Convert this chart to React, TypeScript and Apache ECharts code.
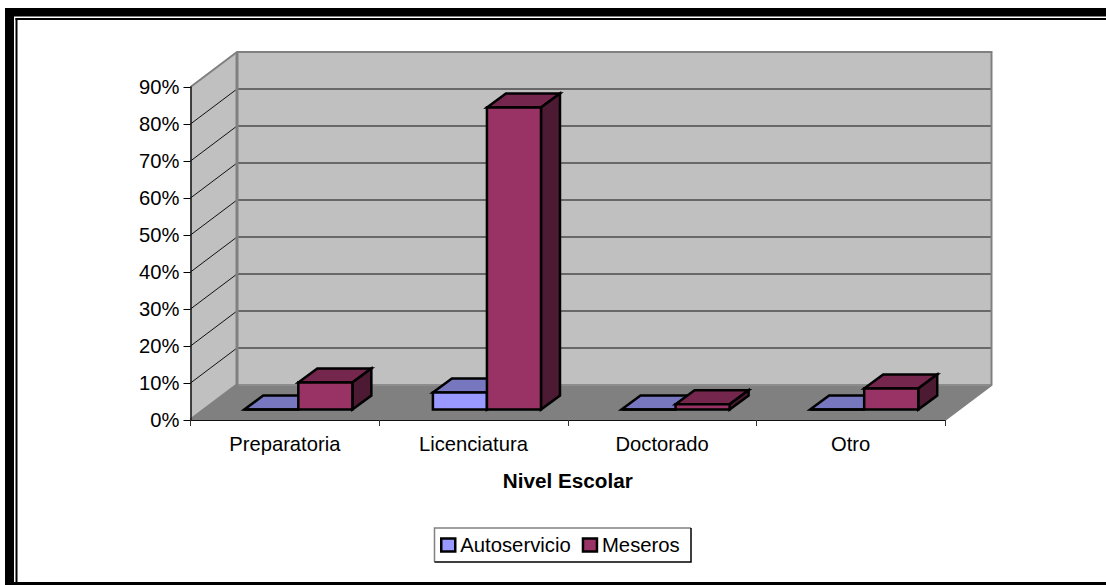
import React, { useEffect, useRef } from "react";
import * as echarts from "echarts";

const categories = ["Preparatoria", "Licenciatura", "Doctorado", "Otro"];
const autoservicio = [0, 4.6, 0, 0];
const meseros = [7.3, 81.6, 1.4, 5.7];
const yTicks = [10, 20, 30, 40, 50, 60, 70, 80];
const yMax = 90;
const yInterval = 10;

const FONT = '"Liberation Sans", Arial, sans-serif';
const WALL_DX = 46.5;
const WALL_DY = 35;
const BAR_DX = 19;
const BAR_DY = 14;
const BAR_SHIFT_X = 13.5;
const BAR_SHIFT_Y = 10.5;
const BAR_RATIO = 0.2865;

function polygon(points: number[][], fill: string, stroke: string, lineWidth: number) {
  return {
    type: "polygon",
    shape: { points },
    style: { fill, stroke, lineWidth, lineJoin: "miter" },
    silent: true,
  };
}

function wallsRenderer(params: any, api: any) {
  const cs = params.coordSys;
  const x0 = cs.x;
  const x1 = cs.x + cs.width;
  const yT = cs.y;
  const yB = cs.y + cs.height;
  const children: any[] = [
    polygon([[x0, yB], [x0 + WALL_DX, yB - WALL_DY], [x1 + WALL_DX, yB - WALL_DY], [x1, yB]], "#808080", "none", 0),
    polygon([[x0, yB], [x0 + WALL_DX, yB - WALL_DY], [x0 + WALL_DX, yT - WALL_DY], [x0, yT]], "#C0C0C0", "none", 0),
    polygon([[x0 + WALL_DX, yB - WALL_DY], [x1 + WALL_DX, yB - WALL_DY], [x1 + WALL_DX, yT - WALL_DY], [x0 + WALL_DX, yT - WALL_DY]], "#C0C0C0", "none", 0),
  ];
  yTicks.forEach((t) => {
    const y = api.coord([0, t])[1];
    children.push({
      type: "polyline",
      shape: { points: [[x0, y], [x0 + WALL_DX, y - WALL_DY], [x1 + WALL_DX, y - WALL_DY]] },
      style: { fill: "none", stroke: "#111", lineWidth: 1 },
      silent: true,
    });
  });
  children.push({
    type: "polyline",
    shape: { points: [[x0 + WALL_DX, yB - WALL_DY], [x1 + WALL_DX, yB - WALL_DY]] },
    style: { fill: "none", stroke: "#8c8c8c", lineWidth: 2 },
    silent: true,
  });
  children.push({
    type: "polyline",
    shape: { points: [[x0, yT], [x0 + WALL_DX, yT - WALL_DY], [x1 + WALL_DX, yT - WALL_DY], [x1 + WALL_DX, yB - WALL_DY], [x1, yB]] },
    style: { fill: "none", stroke: "#808080", lineWidth: 2 },
    silent: true,
  });
  children.push({
    type: "polyline",
    shape: { points: [[x0, yB], [x0 + WALL_DX, yB - WALL_DY], [x0 + WALL_DX, yT - WALL_DY]] },
    style: { fill: "none", stroke: "#808080", lineWidth: 3 },
    silent: true,
  });
  return { type: "group", children };
}

function barRenderer(seriesIndex: number, front: string, top: string, side: string) {
  return (params: any, api: any) => {
    const cat = api.value(0);
    const val = api.value(1);
    const base = api.coord([cat, 0]);
    const peak = api.coord([cat, val]);
    const w = api.size([1, 0])[0] * BAR_RATIO;
    const xL = base[0] + BAR_SHIFT_X + (seriesIndex === 0 ? -w : 0);
    const xR = xL + w;
    const yB = base[1] - BAR_SHIFT_Y;
    const yT = peak[1] - BAR_SHIFT_Y;
    return {
      type: "group",
      children: [
        polygon([[xL, yT], [xL + BAR_DX, yT - BAR_DY], [xR + BAR_DX, yT - BAR_DY], [xR, yT]], top, "#000", 2.5),
        polygon([[xR, yT], [xR + BAR_DX, yT - BAR_DY], [xR + BAR_DX, yB - BAR_DY], [xR, yB]], side, "#000", 2.5),
        polygon([[xL, yB], [xR, yB], [xR, yT], [xL, yT]], front, "#000", 2.5),
      ],
    };
  };
}

export default function App() {
  const ref = useRef<HTMLDivElement>(null);
  useEffect(() => {
    const chart = echarts.init(ref.current!, undefined, { renderer: "svg" });
    chart.setOption({
      animation: false,
      backgroundColor: "#fff",
      textStyle: { fontFamily: FONT },
      grid: { left: 190.5, top: 87, width: 754.5, height: 333 },
      graphic: [
        { type: "rect", z: 100, silent: true, shape: { x: 5, y: 8, width: 1101, height: 8.5 }, style: { fill: "#000" } },
        { type: "rect", z: 100, silent: true, shape: { x: 5, y: 8, width: 9, height: 577 }, style: { fill: "#000" } },
        { type: "rect", z: 100, silent: true, shape: { x: 15.5, y: 18, width: 1090.5, height: 2 }, style: { fill: "#000" } },
        { type: "rect", z: 100, silent: true, shape: { x: 15.5, y: 18, width: 2, height: 567 }, style: { fill: "#000" } },
        { type: "rect", z: 100, silent: true, shape: { x: 5, y: 582, width: 1101, height: 3 }, style: { fill: "#000" } },
        { type: "polyline", z: 100, silent: true, shape: { points: [[434.5, 562], [434.5, 528], [691, 528]] }, style: { fill: "none", stroke: "#808080", lineWidth: 1.5 } },
        { type: "polyline", z: 100, silent: true, shape: { points: [[691, 528], [691, 562], [434.5, 562]] }, style: { fill: "none", stroke: "#000", lineWidth: 1.5 } },
      ],
      xAxis: {
        type: "category",
        data: categories,
        z: 5,
        name: "Nivel Escolar",
        nameLocation: "middle",
        nameGap: 50,
        nameTextStyle: { fontFamily: FONT, fontSize: 20.7, fontWeight: "bold", color: "#000" },
        axisLine: { lineStyle: { color: "#111", width: 1.2 } },
        axisTick: { show: true, alignWithLabel: false, length: 6, lineStyle: { color: "#333" } },
        axisLabel: { fontFamily: FONT, fontSize: 20.2, color: "#000", margin: 14 },
        splitLine: { show: false },
      },
      yAxis: {
        type: "value",
        min: 0,
        max: yMax,
        interval: yInterval,
        z: 5,
        axisLine: { show: true, lineStyle: { color: "#111", width: 1.5 } },
        axisTick: { show: true, length: 7, lineStyle: { color: "#000" } },
        axisLabel: { fontFamily: FONT, fontSize: 20.2, color: "#000", margin: 11, formatter: (v: number) => `${v}%` },
        splitLine: { show: false },
      },
      legend: {
        left: 434,
        top: 528,
        padding: [7, 7, 7, 6],
        itemWidth: 14,
        itemHeight: 13,
        itemGap: 11,
        icon: "rect",
        data: ["Autoservicio", "Meseros"],
        textStyle: { fontFamily: FONT, fontSize: 20.3, color: "#000" },
        itemStyle: { borderColor: "#000", borderWidth: 2.5 },
      },
      series: [
        {
          type: "custom",
          name: "walls",
          z: 1,
          silent: true,
          clip: false,
          data: [[0, 0]],
          encode: { x: 0, y: 1 },
          renderItem: wallsRenderer,
        },
        {
          type: "custom",
          name: "Autoservicio",
          z: 6,
          clip: false,
          silent: true,
          itemStyle: { color: "#9999FF" },
          data: autoservicio.map((v, i) => [i, v]),
          encode: { x: 0, y: 1 },
          renderItem: barRenderer(0, "#9999FF", "#7777C0", "#4D4D80"),
        },
        {
          type: "custom",
          name: "Meseros",
          z: 7,
          clip: false,
          silent: true,
          itemStyle: { color: "#993366" },
          data: meseros.map((v, i) => [i, v]),
          encode: { x: 0, y: 1 },
          renderItem: barRenderer(1, "#993366", "#74264D", "#4D1A33"),
        },
      ],
    });
    return () => chart.dispose();
  }, []);
  return <div ref={ref} style={{ position: "absolute", left: 0, top: 0, width: 1106, height: 585 }} />;
}
